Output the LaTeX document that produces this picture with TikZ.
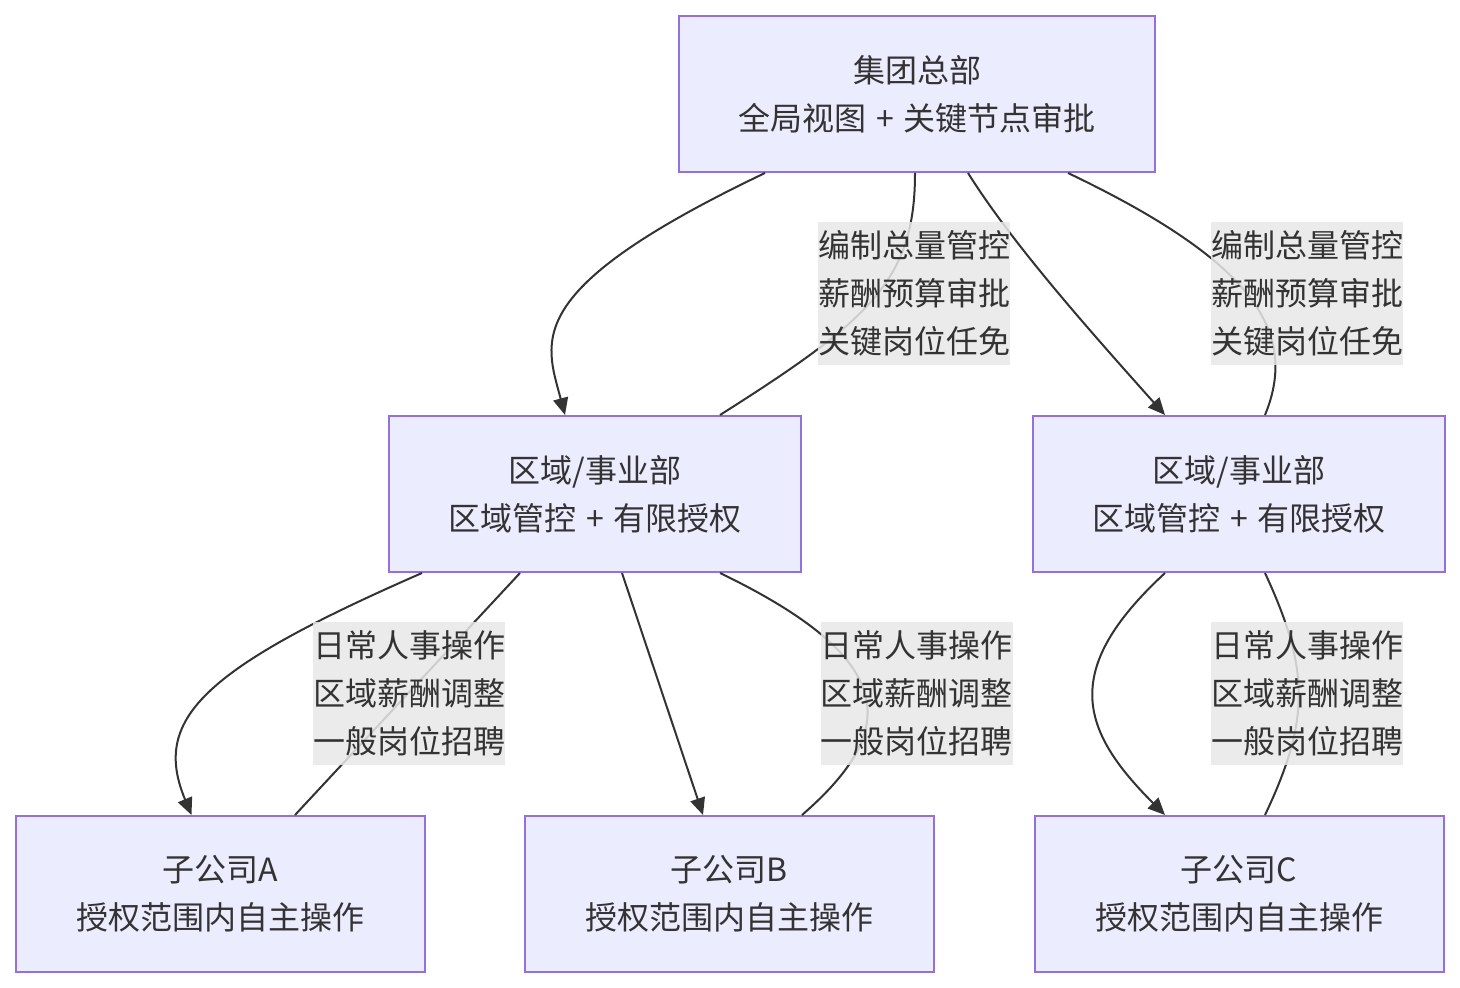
\documentclass[tikz,border=0pt]{standalone}
\usepackage{fontspec}
\setmainfont{Noto Sans CJK SC}
\usetikzlibrary{calc,arrows.meta}
\definecolor{nodefill}{HTML}{ECECFF}
\definecolor{nodeline}{HTML}{9370DB}
\definecolor{txt}{HTML}{333333}
\definecolor{edge}{HTML}{333333}
\definecolor{lblbg}{HTML}{E8E8E8}
\newcommand{\plussep}{\hspace{1pt} + \hspace{1pt}}
\tikzset{
  box/.style={draw=nodeline, fill=nodefill, line width=1pt, text=txt,
    minimum height=78pt, inner sep=0pt, align=center,
    font=\fontsize{16pt}{24pt}\selectfont},
  hqbox/.style={box, minimum width=238pt},
  rbox/.style={box, minimum width=206pt},
  sbox/.style={box, minimum width=204.5pt},
  elabel/.style={fill=lblbg, fill opacity=0.85, text opacity=1, text=txt,
    inner sep=0pt, minimum width=96pt, minimum height=71.5pt, align=center,
    font=\fontsize{16pt}{24pt}\selectfont},
  conn/.style={draw=edge, line width=1pt},
  arr/.style={conn, -{Triangle[length=8.5pt,width=7.5pt]}}
}
\begin{document}
\begin{tikzpicture}[x=0.5pt,y=-0.5pt]
\useasboundingbox (0,0) rectangle (1460,988);
\node[hqbox] (hq) at (917,94) {集团总部\\全局视图\plussep 关键节点审批};
\node[rbox] (r1) at (595,494) {区域/事业部\\区域管控\plussep 有限授权};
\node[rbox] (r2) at (1239,494) {区域/事业部\\区域管控\plussep 有限授权};
\node[sbox] (sa) at (220.5,894) {子公司A\\授权范围内自主操作};
\node[sbox] (sb) at (729,894) {子公司B\\授权范围内自主操作};
\node[sbox] (sc) at (1239,894) {子公司C\\授权范围内自主操作};
% HQ -> R1
\draw[arr] ($(hq.south)+(-152,0)$) .. controls (520,290) and (545,340) .. ($(r1.north)+(-30,0)$);
\draw[conn] ($(hq.south)+(-2,0)$) .. controls (915,280) and (870,320) .. ($(r1.north)+(125,0)$);
% HQ -> R2
\draw[arr] ($(hq.south)+(51,0)$) .. controls (1010,240) and (1080,320) .. ($(r2.north)+(-74,0)$);
\draw[conn] ($(hq.south)+(151,0)$) .. controls (1250,260) and (1300,330) .. ($(r2.north)+(26,0)$);
% R1 -> A
\draw[arr] ($(r1.south)+(-173,0)$) .. controls (200,670) and (152,720) .. ($(sa.north)+(-29,0)$);
\draw[conn] ($(r1.south)+(-75,0)$) -- ($(sa.north)+(74.5,0)$);
% R1 -> B
\draw[arr] ($(r1.south)+(27,0)$) -- ($(sb.north)+(-26,0)$);
\draw[conn] ($(r1.south)+(125,0)$) .. controls (900,660) and (900,730) .. ($(sb.north)+(73,0)$);
% R2 -> C
\draw[arr] ($(r2.south)+(-74,0)$) .. controls (1060,670) and (1080,730) .. ($(sc.north)+(-74,0)$);
\draw[conn] ($(r2.south)+(26,0)$) .. controls (1310,670) and (1310,720) .. ($(sc.north)+(26,0)$);
% labels
\node[elabel] (l1) at (914,293.5) {编制总量管控\\薪酬预算审批\\关键岗位任免};
\node[elabel] (l2) at (1307,293.5) {编制总量管控\\薪酬预算审批\\关键岗位任免};
\node[elabel] (l3) at (409,693.5) {日常人事操作\\区域薪酬调整\\一般岗位招聘};
\node[elabel] (l4) at (916.5,693.5) {日常人事操作\\区域薪酬调整\\一般岗位招聘};
\node[elabel] (l5) at (1307,693.5) {日常人事操作\\区域薪酬调整\\一般岗位招聘};
\end{tikzpicture}
\end{document}
